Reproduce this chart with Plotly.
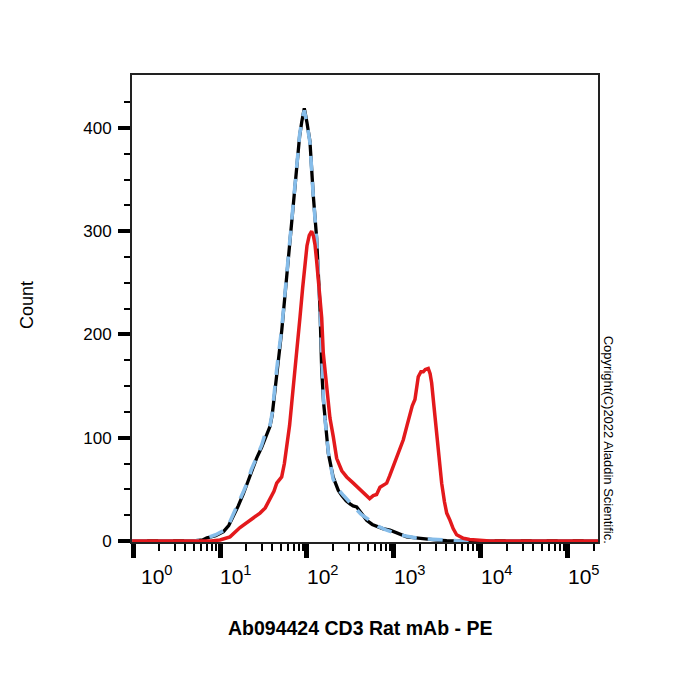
import numpy as np
import plotly.graph_objects as go

# ---------------- data ----------------
x_tick_exponents = [0, 1, 2, 3, 4, 5]
x_tick_labels = ["10<sup>0</sup>", "10<sup>1</sup>", "10<sup>2</sup>",
                 "10<sup>3</sup>", "10<sup>4</sup>", "10<sup>5</sup>"]
y_tick_values = [0, 100, 200, 300, 400]
y_tick_labels = ["0", "100", "200", "300", "400"]

# fluorescence intensity in log10 units, counts
black_log = [-0.01, 0.70, 0.80, 0.85, 0.95, 1.04, 1.10, 1.15, 1.21, 1.27, 1.32, 1.36,
             1.42, 1.48, 1.53, 1.575, 1.60, 1.625, 1.65, 1.68, 1.71, 1.76, 1.805, 1.85,
             1.882, 1.915, 1.94, 1.969, 2.00, 2.034, 2.072, 2.111, 2.149, 2.169, 2.19,
             2.207, 2.245, 2.30, 2.36, 2.40, 2.45, 2.494, 2.53, 2.571, 2.62, 2.686, 2.75,
             2.80, 2.87, 2.954, 3.05, 3.146, 3.25, 3.376, 3.50, 3.606, 3.80, 5.345]
black_count = [0, 0, 1, 3, 5, 9, 15, 23, 34, 46, 57, 68,
               80, 91, 101, 111, 122, 140, 164, 185, 204, 250, 293, 335,
               367, 392, 406, 419, 405, 387, 335, 293, 226, 166, 135,
               117, 85, 62, 49, 44, 39, 36, 34, 33, 27, 20, 16,
               14, 12, 10.5, 7, 4, 3, 1.6, 0.8, 0.3, 0, 0]

blue_log = [-0.01, 0.70, 0.80, 0.85, 0.95, 1.04, 1.10, 1.15, 1.21, 1.27, 1.32, 1.36,
            1.42, 1.48, 1.52, 1.55, 1.575, 1.60, 1.625, 1.65, 1.68, 1.71, 1.76, 1.805,
            1.85, 1.882, 1.915, 1.94, 1.969, 2.00, 2.034, 2.072, 2.111, 2.149, 2.169,
            2.19, 2.207, 2.245, 2.30, 2.36, 2.42, 2.48, 2.55, 2.62, 2.686, 2.75, 2.82,
            2.90, 2.98, 3.06, 3.15, 3.25, 3.38, 3.50, 3.62, 3.76, 5.345]
blue_count = [0, 0, 1, 3, 6, 10, 16, 25, 36, 48, 58, 69,
              81, 93, 104, 108, 112, 124, 141, 165, 186, 206, 252, 295,
              336, 368, 393, 407, 417, 404, 386, 334, 292, 226, 168,
              137, 118, 86, 60, 50, 44, 38, 32, 26, 22, 18, 14,
              11, 8.5, 6, 4.5, 3, 2, 1.2, 0.6, 0, 0]

red_log = [-0.01, 0.90, 1.00, 1.115, 1.23, 1.345, 1.46, 1.52, 1.575, 1.62, 1.652, 1.709,
           1.74, 1.767, 1.80, 1.824, 1.855, 1.882, 1.92, 1.95, 1.977, 2.00, 2.026, 2.054,
           2.075, 2.092, 2.11, 2.13, 2.15, 2.169, 2.187, 2.206, 2.226, 2.245, 2.264,
           2.302, 2.341, 2.40, 2.456, 2.52, 2.571, 2.63, 2.686, 2.72, 2.762, 2.80, 2.839,
           2.88, 2.916, 2.95, 2.992, 3.05, 3.107, 3.15, 3.184, 3.21, 3.241, 3.26, 3.279,
           3.31, 3.337, 3.36, 3.394, 3.415, 3.433, 3.46, 3.49, 3.52, 3.548, 3.58, 3.606,
           3.644, 3.68, 3.72, 3.797, 3.87, 3.951, 4.10, 5.345]
red_count = [0, 0, 1, 4, 13, 20, 27, 32, 40, 48, 56, 62,
             75, 91, 112, 133, 158, 182, 217, 245, 270, 286, 296, 300,
             295, 287, 272, 251, 232, 216, 182, 165, 149, 133, 119,
             101, 80, 68, 62, 57, 53, 48, 43, 41, 44, 45, 52,
             54, 56, 63, 72, 85, 98, 112, 124, 131, 137, 148, 159,
             164, 164, 166, 167, 162, 153, 130, 104, 80, 56, 38, 27,
             20, 12, 6, 2.6, 1.5, 1, 0, 0]

x_title = "Ab094424 CD3 Rat mAb - PE"
y_title = "Count"
copyright_text = "Copyright(C)2022 Aladdin Scientific."

# ---------------- figure ----------------
FONT = "Liberation Sans, Arial, sans-serif"

fig = go.Figure()
fig.add_trace(go.Scatter(x=10 ** np.array(black_log), y=black_count, mode="lines",
                         line=dict(color="#000000", width=3.3), showlegend=False))
fig.add_trace(go.Scatter(x=10 ** np.array(blue_log), y=blue_count, mode="lines",
                         line=dict(color="#86BDEA", width=3.6, dash="15px,11px"),
                         showlegend=False))
fig.add_trace(go.Scatter(x=10 ** np.array(red_log), y=red_count, mode="lines",
                         line=dict(color="#E3191C", width=3.5), showlegend=False))

major_x = [10.0 ** e for e in x_tick_exponents]
minor_x = [k * 10.0 ** e for e in x_tick_exponents for k in range(2, 10)
           if np.log10(k * 10.0 ** e) < 5.34]
minor_y = [v for v in range(25, 450, 25) if v % 100 != 0]

fig.update_layout(
    width=700, height=700,
    margin=dict(l=132, r=102, t=75, b=158),
    paper_bgcolor="white", plot_bgcolor="white",
    font=dict(family=FONT, color="black"),
    xaxis=dict(type="log", range=[-0.0115, 5.345], showgrid=False, zeroline=False,
               showline=True, linecolor="#222", linewidth=2, mirror=True,
               ticks="outside", tickvals=major_x, ticklen=14, tickwidth=4.5,
               tickcolor="black", showticklabels=False,
               minor=dict(tickvals=minor_x, ticks="outside", ticklen=7,
                          tickwidth=2.2, tickcolor="black", showgrid=False)),
    yaxis=dict(range=[-1, 451.3], showgrid=False, zeroline=False,
               showline=True, linecolor="#222", linewidth=2, mirror=True,
               ticks="outside", tickvals=y_tick_values, ticktext=y_tick_labels,
               ticklen=12, tickwidth=3.5, tickcolor="black",
               tickfont=dict(size=17, family=FONT, color="black"),
               ticklabelstandoff=3,
               minor=dict(tickvals=minor_y, ticks="outside", ticklen=6,
                          tickwidth=2, tickcolor="black", showgrid=False)),
)

annotations = []
for e, lab in zip(x_tick_exponents, x_tick_labels):
    annotations.append(dict(x=e, xref="x", y=0, yref="paper", text=lab,
                            showarrow=False, xanchor="left", yanchor="top",
                            xshift=6 if e == 0 else -2, yshift=-18,
                            font=dict(size=21, family=FONT, color="black")))
annotations.append(dict(x=0.489, xref="paper", y=-0.184, yref="paper", text=x_title,
                        showarrow=False, xanchor="center", yanchor="middle",
                        font=dict(size=19.5, family=FONT, color="black", weight="bold")))
annotations.append(dict(x=-0.2253, xref="paper", y=0.5075, yref="paper", text=y_title,
                        showarrow=False, textangle=-90, xanchor="center", yanchor="middle",
                        font=dict(size=18, family=FONT, color="black")))
annotations.append(dict(x=1.0225, xref="paper", y=0.218, yref="paper", text=copyright_text,
                        showarrow=False, textangle=90, xanchor="center", yanchor="middle",
                        font=dict(size=13, family=FONT, color="black")))
fig.update_layout(annotations=annotations)

fig.write_html("out.html")
